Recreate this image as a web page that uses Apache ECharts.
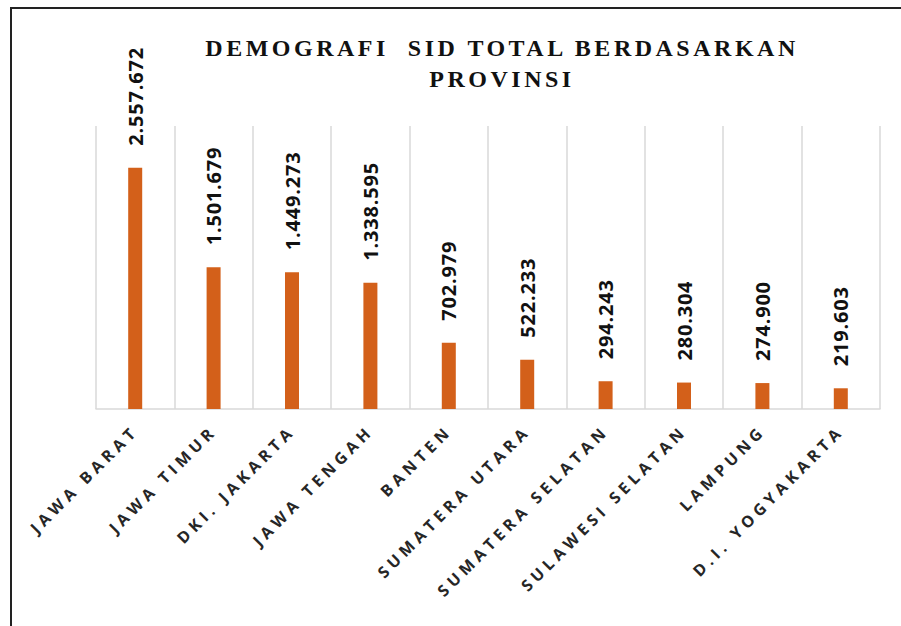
<!DOCTYPE html>
<html>
<head>
<meta charset="utf-8">
<script src="https://cdn.jsdelivr.net/npm/echarts@6/dist/echarts.min.js"></script>
<style>
  html, body { margin: 0; padding: 0; background: #fff; }
  #main { width: 901px; height: 626px; }
</style>
</head>
<body>
<div id="main"></div>
<script>
var provinsi = ['JAWA BARAT', 'JAWA TIMUR', 'DKI. JAKARTA', 'JAWA TENGAH', 'BANTEN',
                'SUMATERA UTARA', 'SUMATERA SELATAN', 'SULAWESI SELATAN', 'LAMPUNG', 'D.I. YOGYAKARTA'];
var totalSid = [2557672, 1501679, 1449273, 1338595, 702979, 522233, 294243, 280304, 274900, 219603];
var judul = 'DEMOGRAFI  SID TOTAL BERDASARKAN\nPROVINSI';

// angka pakai titik sebagai pemisah ribuan
function titik(v) {
    return String(v).replace(/\B(?=(\d{3})+(?!\d))/g, '.');
}

var myChart = echarts.init(document.getElementById('main'), null, {renderer: 'svg'});

var option = {
    animation: false,
    backgroundColor: '#fff',
    title: {
        text: judul,
        left: 497,
        top: 27,
        textAlign: 'center',
        textStyle: {
            fontFamily: 'Liberation Serif',
            fontWeight: 'bold',
            fontSize: 24,
            lineHeight: 31,
            color: '#111'
        }
    },
    graphic: [{
        type: 'rect',
        shape: {x: 11, y: 8, width: 1000, height: 700},
        style: {fill: 'none', stroke: '#222', lineWidth: 2},
        silent: true
    }],
    grid: {left: 96, right: 21, top: 126, bottom: 217},
    xAxis: {
        type: 'category',
        data: provinsi,
        axisLine: {lineStyle: {color: '#d9d9d9', width: 1.5}},
        axisTick: {show: false},
        splitLine: {show: true, lineStyle: {color: '#d9d9d9', width: 1.5}},
        axisLabel: {
            rotate: 45,
            interval: 0,
            margin: 19,
            fontFamily: 'Open Sans',
            fontWeight: 'bold',
            fontSize: 16,
            color: '#262626'
        }
    },
    yAxis: {
        type: 'value',
        min: 0,
        max: 3000000,
        show: false,
        splitLine: {show: false}
    },
    series: [{
        type: 'bar',
        data: totalSid,
        barWidth: 14,
        itemStyle: {color: '#d3601a'},
        label: {
            show: true,
            position: 'top',
            rotate: 90,
            align: 'left',
            verticalAlign: 'middle',
            distance: 22,
            fontFamily: 'Open Sans',
            fontWeight: 'bold',
            fontSize: 20,
            color: '#111',
            formatter: function (p) { return titik(p.value); }
        }
    }]
};

myChart.setOption(option);

// jarak antar huruf untuk judul, label provinsi dan angka
function spasiHuruf() {
    var texts = document.querySelectorAll('#main text');
    for (var i = 0; i < texts.length; i++) {
        var t = texts[i].textContent;
        if (provinsi.indexOf(t) >= 0) {
            texts[i].setAttribute('letter-spacing', '4.5px');
        } else if (t.indexOf('DEMOGRAFI') >= 0 || t === 'PROVINSI') {
            texts[i].setAttribute('letter-spacing', '3.5px');
            texts[i].setAttribute('xml:space', 'preserve');
            texts[i].style.whiteSpace = 'pre';
        } else if (/^[\d.]+$/.test(t)) {
            texts[i].setAttribute('letter-spacing', '0.8px');
        }
    }
}
myChart.on('finished', spasiHuruf);
spasiHuruf();
</script>
</body>
</html>
